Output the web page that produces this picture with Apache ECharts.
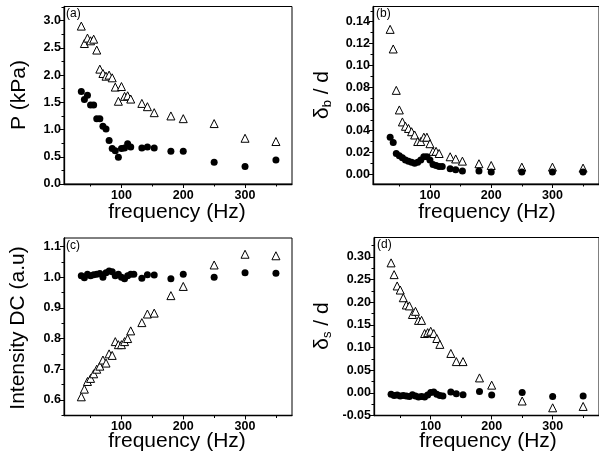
<!DOCTYPE html>
<html>
<head>
<meta charset="utf-8">
<script src="https://cdn.jsdelivr.net/npm/echarts@6/dist/echarts.min.js"></script>
<style>
html,body{margin:0;padding:0;background:#fff;}
#chart{width:599px;height:457px;}
</style>
</head>
<body>
<div id="chart"></div>
<script>
// ---- data ----
const freq   = [35,40,45,50,55,60,65,70,75,80,85,90,95,100,105,110,115,120,133,142,153,180,200,250,300,350];
// (a) P (kPa)
const pTri   = [2.90,2.58,2.68,2.63,2.66,2.46,2.11,2.03,1.98,2.00,1.95,1.78,1.52,1.79,1.61,1.62,1.56,null,1.48,1.42,1.31,1.25,1.20,1.11,0.84,0.78];
const pDot   = [1.70,1.55,1.63,1.45,1.45,1.20,1.20,1.06,1.01,0.80,0.65,0.61,0.49,0.65,0.66,0.74,0.68,null,0.66,0.68,0.66,0.60,0.60,0.40,0.32,0.44];
// (b) delta_b / d
const dbTri  = [0.133,0.115,0.077,0.059,0.048,0.044,0.042,0.039,0.036,0.030,0.030,0.034,0.034,0.028,0.021,0.021,0.019,null,0.016,0.014,0.012,0.0096,0.008,0.0065,0.0065,0.0056];
const dbDot  = [0.034,0.029,0.019,0.017,0.015,0.013,0.012,0.011,0.010,0.011,0.013,0.016,0.016,0.013,0.009,0.008,0.007,0.007,0.005,0.004,0.003,0.003,0.002,0.002,0.002,0.002];
// (c) Intensity DC
const icTri  = [0.61,0.635,0.66,0.67,0.685,0.70,0.71,0.73,0.72,0.75,0.745,0.79,0.78,0.78,0.79,0.80,0.825,null,0.852,0.88,0.883,0.94,0.97,1.04,1.075,1.07];
const icDot  = [1.005,0.998,1.01,1.005,1.008,1.01,1.012,1.0,1.015,1.02,1.018,1.005,1.01,1.0,0.995,1.005,1.01,1.01,0.997,1.008,1.007,0.995,1.01,1.0,1.015,1.013];
// (d) delta_s / d
const dsTri  = [0.287,0.261,0.236,0.227,0.21,0.194,0.192,0.173,0.180,0.160,0.160,0.131,0.133,0.136,0.131,0.120,0.107,null,0.087,0.069,0.069,0.033,0.017,-0.018,-0.033,-0.030];
const dsDot  = [-0.003,-0.006,-0.005,-0.007,-0.006,-0.007,-0.008,-0.004,-0.007,-0.009,-0.008,-0.009,-0.005,0.001,0.002,-0.003,-0.006,-0.007,0.002,-0.002,-0.004,0.003,-0.005,0.001,-0.008,-0.007];
// ticks
const xMajor = [100,200,300];
const xMinor = [50,150,250,350];
const aMajor = [0,0.5,1.0,1.5,2.0,2.5,3.0];
const aMinor = [0.25,0.75,1.25,1.75,2.25,2.75,3.25];
const bMajor = [0,0.02,0.04,0.06,0.08,0.10,0.12,0.14];
const bMinor = [0.01,0.03,0.05,0.07,0.09,0.11,0.13,0.15];
const cMajor = [0.6,0.7,0.8,0.9,1.0,1.1];
const cMinor = [0.55,0.65,0.75,0.85,0.95,1.05];
const dMajor = [-0.05,0,0.05,0.10,0.15,0.20,0.25,0.30];
const dMinor = [-0.025,0.025,0.075,0.125,0.175,0.225,0.275,0.325];

const FONT = "'Liberation Sans', Arial, sans-serif";
const grids = [
  {left:64, top:6.5, width:228, height:177.5, show:true, borderColor:'#000', borderWidth:1},
  {left:373, top:6.5, width:229, height:177.5, show:true, borderColor:'#000', borderWidth:1},
  {left:64, top:238, width:228, height:177.5, show:true, borderColor:'#000', borderWidth:1},
  {left:374, top:237.5, width:229, height:178, show:true, borderColor:'#000', borderWidth:1}
];
const XMIN = 7, XMAX = 376;
const yRanges = [[0,3.26],[-0.009,0.154],[0.549,1.128],[-0.05,0.343]];
const yTicks = [[aMajor,aMinor,1],[bMajor,bMinor,2],[cMajor,cMinor,1],[dMajor,dMinor,2]];

const xAxes = [], yAxes = [];
for (let g=0; g<4; g++) {
  xAxes.push({type:'value', gridIndex:g, position:'bottom', min:XMIN, max:XMAX,
    axisLine:{show:true, onZero:false, lineStyle:{color:'#000', width:1.3}},
    axisTick:{show:true, inside:false, length:4, customValues:xMajor, lineStyle:{color:'#000', width:1}},
    axisLabel:{show:true, customValues:xMajor, color:'#000', fontSize:12.5, fontWeight:'bold', fontFamily:FONT, margin:5},
    splitLine:{show:false}});
  xAxes.push({type:'value', gridIndex:g, position:'bottom', offset:0, min:XMIN, max:XMAX,
    axisLine:{show:false, onZero:false},
    axisTick:{show:true, inside:false, length:2.5, customValues:xMinor, lineStyle:{color:'#000', width:1}},
    axisLabel:{show:false}, splitLine:{show:false}});
  const [mj, mn, dec] = yTicks[g];
  yAxes.push({type:'value', gridIndex:g, position:'left', min:yRanges[g][0], max:yRanges[g][1],
    axisLine:{show:true, onZero:false, lineStyle:{color:'#000', width:1.3}},
    axisTick:{show:true, inside:false, length:4, customValues:mj, lineStyle:{color:'#000', width:1}},
    axisLabel:{show:true, customValues:mj, color:'#000', fontSize:12.5, fontWeight:'bold', fontFamily:FONT, margin:3,
      formatter: v => v.toFixed(dec)},
    splitLine:{show:false}});
  yAxes.push({type:'value', gridIndex:g, position:'left', offset:0, min:yRanges[g][0], max:yRanges[g][1],
    axisLine:{show:false, onZero:false},
    axisTick:{show:true, inside:false, length:2.5, customValues:mn, lineStyle:{color:'#000', width:1}},
    axisLabel:{show:false}, splitLine:{show:false}});
}

function pairs(vals){ const out=[]; freq.forEach((f,i)=>{ if(vals[i]!==null) out.push([f, vals[i]]); }); return out; }
const tri = {symbol:'triangle', symbolSize:8, itemStyle:{color:'#fff', borderColor:'#000', borderWidth:1, opacity:1}};
const dot = {symbol:'circle', symbolSize:7, itemStyle:{color:'#000', borderColor:'#000', borderWidth:0, opacity:1}};
const sets = [[pDot,pTri],[dbDot,dbTri],[icDot,icTri],[dsDot,dsTri]];
const series = [];
sets.forEach((s,g)=>{
  series.push(Object.assign({type:'scatter', xAxisIndex:2*g, yAxisIndex:2*g, data:pairs(s[0]), animation:false, silent:true, z:3}, dot));
  series.push(Object.assign({type:'scatter', xAxisIndex:2*g, yAxisIndex:2*g, data:pairs(s[1]), animation:false, silent:true, z:2}, tri));
});

const T = (x,y,txt,size,rot) => ({type:'text', x:x, y:y, rotation:rot||0,
  style:{text:txt, fill:'#000', font:size+'px '+FONT, align:'center', verticalAlign:'middle'}});
const R = Math.PI/2;
const graphic = [
  T(177,212,'frequency (Hz)',21,0),
  T(487,212,'frequency (Hz)',21,0),
  T(177,441,'frequency (Hz)',21,0),
  T(488,441,'frequency (Hz)',21,0),
  T(19,95,'P (kPa)',21,R),
  T(18,328,'Intensity DC (a.u)',21,R),
  {type:'text', x:322, y:95, rotation:R, style:{text:'{d|δ}{s|b}{d| / d}', align:'center', verticalAlign:'middle',
     rich:{d:{fontSize:21, fontFamily:FONT, fill:'#000'}, s:{fontSize:13, fontFamily:FONT, fill:'#000', padding:[10,0,0,0]}}}},
  {type:'text', x:322, y:326, rotation:R, style:{text:'{d|δ}{s|s}{d| / d}', align:'center', verticalAlign:'middle',
     rich:{d:{fontSize:21, fontFamily:FONT, fill:'#000'}, s:{fontSize:13, fontFamily:FONT, fill:'#000', padding:[10,0,0,0]}}}},
  {type:'text', x:66, y:8, style:{text:'(a)', fill:'#000', font:'12px '+FONT}},
  {type:'text', x:376, y:8, style:{text:'(b)', fill:'#000', font:'12px '+FONT}},
  {type:'text', x:66, y:240, style:{text:'(c)', fill:'#000', font:'12px '+FONT}},
  {type:'text', x:377, y:239, style:{text:'(d)', fill:'#000', font:'12px '+FONT}}
];

const chart = echarts.init(document.getElementById('chart'), null, {renderer:'canvas'});
chart.setOption({animation:false, backgroundColor:'#fff', grid:grids, xAxis:xAxes, yAxis:yAxes, series:series, graphic:graphic});
</script>
</body>
</html>
